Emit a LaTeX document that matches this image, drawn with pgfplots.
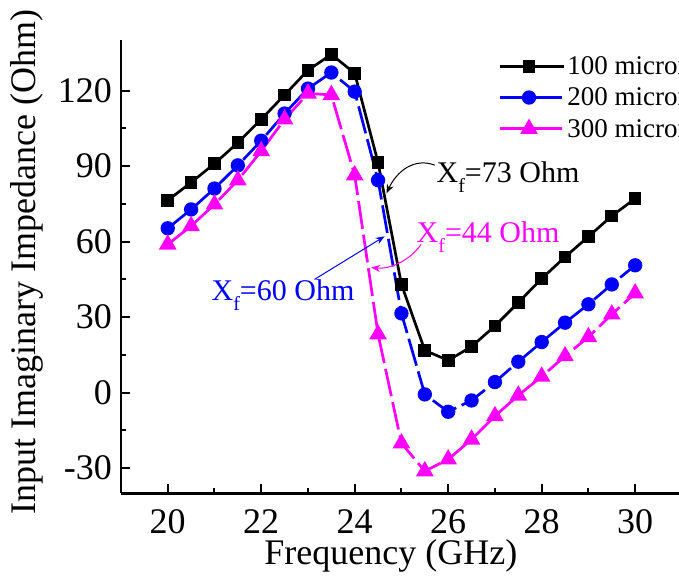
\documentclass[border=0pt]{standalone}
\usepackage{fontspec}
\setmainfont{Liberation Serif}
\usepackage{pgfplots}
\pgfplotsset{compat=1.18}
\usetikzlibrary{arrows.meta}
\definecolor{mag}{RGB}{255,0,255}
\definecolor{blu}{RGB}{0,0,255}
\newcommand{\Xf}{X\raisebox{-10pt}{\fontsize{20}{20}\selectfont f}}

\pgfplotstableread{
x y
20 76.4
20.5 83.5
21 91.0
21.5 99.3
22 108.6
22.5 118.3
23 128.1
23.5 134.4
24 126.9
24.5 91.4
25 43.0
25.5 16.8
26 12.8
26.5 18.3
27 26.5
27.5 35.8
28 45.3
28.5 53.9
29 62.0
29.5 70.2
30 77.1
}\tabA
\pgfplotstableread{
x y
20 65.3
20.5 72.8
21 81.1
21.5 90.3
22 100.1
22.5 110.9
23 120.8
23.5 127.2
24 119.6
24.5 84.4
25 31.5
25.5 -0.7
26 -7.6
26.5 -3.1
27 4.2
27.5 12.3
28 20.1
28.5 27.8
29 35.1
29.5 43.0
30 50.6
}\tabB
\pgfplotstableread{
x y
20 58.9
20.5 66.2
21 74.8
21.5 84.4
22 96.0
22.5 108.6
23 118.9
23.5 118.3
24 86.4
24.5 23.2
25 -20.1
25.5 -31.2
26 -26.5
26.5 -18.6
27 -9.3
27.5 -1.1
28 6.4
28.5 14.5
29 22.1
29.5 31.1
30 39.5
}\tabC

\begin{document}
\begin{tikzpicture}
\begin{axis}[
 name=ax,
 x=46.74pt, y=2.5166pt,
 xmin=19, xmax=31, ymin=-40, ymax=140,
 axis x line*=bottom, axis y line*=left,
 axis line style={-, line width=2.8pt},
 xtick={20,22,...,30}, ytick={-30,0,...,120},
 minor x tick num=1, minor y tick num=1,
 tick align=inside,
 major tick length=9pt, minor tick length=5pt,
 tick style={line width=2pt, black},
 /pgf/number format/assume math mode=true,
 tick label style={font=\fontsize{36}{43}\selectfont},
 xticklabel style={anchor=base, inner sep=0pt, yshift=-39.7pt},
 yticklabel style={anchor=east, inner sep=0pt, xshift=-9pt},
 xlabel={Frequency (GHz)},
 ylabel={Input Imaginary Impedance (Ohm)},
 label style={font=\fontsize{36}{43}\selectfont, inner sep=0pt},
 xlabel style={at={(axis description cs:0.481,-0.1565)}, anchor=base},
 ylabel style={at={(axis description cs:-0.1518,0.511)}, anchor=base},
 legend style={draw=none, fill=none, at={(axis description cs:0.673,0.969)}, anchor=north west,
   font=\fontsize{27}{31}\selectfont, row sep=7.8pt, column sep=0pt, inner sep=0pt, nodes={inner sep=2pt}},
 legend cell align=left,
 legend image code/.code={\path (0pt,0pt) -- (64pt,0pt);\draw[mark repeat=2,mark phase=2,#1] plot coordinates {(0pt,0pt) (29pt,0pt) (58pt,0pt)};},
 clip=false,
]
\addplot[black, line width=2.7pt, mark=square*, mark size=5pt, mark options={solid}] table {\tabA};
\addlegendentry{100 micron}
\addplot[blu, line width=2.7pt, dash pattern=on 28pt off 6pt, mark=*, mark size=5.8pt, mark options={solid}] table {\tabB};
\addlegendentry{200 micron}
\addplot[mag, line width=2.7pt, dash pattern=on 28pt off 6pt, mark=triangle*, mark size=7.5pt, mark options={solid}] table {\tabC};
\addlegendentry{300 micron}

\node[anchor=base west, font=\fontsize{30}{36}\selectfont, text=black, inner sep=0pt] at (axis cs:25.749,83.57) {\Xf=73 Ohm};
\draw[-{Stealth[length=9pt,width=7pt]}, line width=1pt, black] (axis cs:25.71,90.4) .. controls (axis cs:25.28,93.5) and (axis cs:24.9,88) .. (axis cs:24.68,79.2);

\node[anchor=base west, font=\fontsize{30}{36}\selectfont, text=mag, inner sep=0pt] at (axis cs:25.322,59.76) {\Xf=44 Ohm};
\draw[-{Stealth[length=9pt,width=7pt]}, line width=1pt, mag] (axis cs:25.42,58.9) .. controls (axis cs:25.17,52.2) and (axis cs:24.74,49.0) .. (axis cs:24.35,49.7);

\node[anchor=base west, font=\fontsize{30}{36}\selectfont, text=blu, inner sep=0pt] at (axis cs:20.935,36.68) {\Xf=60 Ohm};
\draw[-{Stealth[length=9pt,width=7pt]}, line width=1pt, blu] (axis cs:23.14,45.0) -- (axis cs:24.64,62.1);
\end{axis}
\pgfresetboundingbox
\path[use as bounding box] ([shift={(-121pt,-82.7pt)}]ax.south west) rectangle ([shift={(558pt,493.3pt)}]ax.south west);
\end{tikzpicture}
\end{document}
